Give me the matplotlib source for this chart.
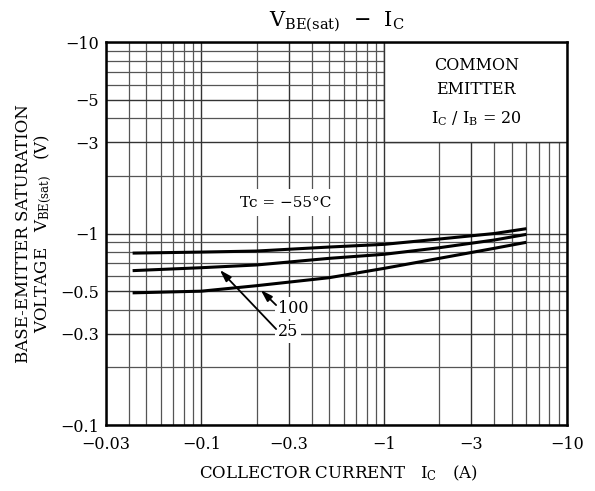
import numpy as np
import matplotlib
matplotlib.use("Agg")
from matplotlib import pyplot as plt
from matplotlib.ticker import FixedLocator, LogLocator, NullFormatter
from matplotlib.patches import Rectangle

plt.rcParams['font.family'] = ['DejaVu Serif']
plt.rcParams['mathtext.fontset'] = 'dejavuserif'

# collector current |Ic| (A) and |VBE(sat)| (V)
ic = [0.042, 0.1, 0.2, 0.5, 1.0, 2.0, 4.0, 6.0]
vbe_m55 = [0.79, 0.80, 0.81, 0.85, 0.878, 0.936, 1.0, 1.06]
vbe_25 = [0.64, 0.663, 0.685, 0.742, 0.779, 0.843, 0.925, 0.99]
vbe_100 = [0.49, 0.50, 0.534, 0.588, 0.658, 0.742, 0.837, 0.90]

x_ticks = [0.03, 0.1, 0.3, 1, 3, 10]
x_labels = ['\u22120.03', '\u22120.1', '\u22120.3', '\u22121', '\u22123', '\u221210']
y_ticks = [0.1, 0.3, 0.5, 1, 3, 5, 10]
y_labels = ['\u22120.1', '\u22120.3', '\u22120.5', '\u22121', '\u22123', '\u22125', '\u221210']

fig = plt.figure(figsize=(5.95, 4.91), dpi=100)
ax = fig.add_axes([0.178, 0.1344, 0.775, 0.780])
ax.set_xscale('log')
ax.set_yscale('log')
ax.set_xlim(0.03, 10)
ax.set_ylim(0.1, 10)

ax.xaxis.set_major_locator(FixedLocator(x_ticks))
ax.set_xticklabels(x_labels)
ax.yaxis.set_major_locator(FixedLocator(y_ticks))
ax.set_yticklabels(y_labels)
ax.xaxis.set_minor_locator(LogLocator(base=10, subs=np.arange(1, 10)))
ax.yaxis.set_minor_locator(LogLocator(base=10, subs=np.arange(1, 10)))
ax.xaxis.set_minor_formatter(NullFormatter())
ax.yaxis.set_minor_formatter(NullFormatter())
ax.tick_params(which='both', length=0, labelsize=11.5)
ax.tick_params(axis='x', pad=8)
ax.tick_params(axis='y', pad=5)

ax.set_axisbelow(True)
ax.grid(which='minor', color='#555555', lw=0.9)
ax.grid(which='major', color='#333333', lw=1.0)
for s in ax.spines.values():
    s.set_linewidth(1.8)

# note box in the upper right corner
ax.add_patch(Rectangle((1, 3), 9, 7, facecolor='white', edgecolor='#333333',
                       lw=1.0, zorder=2))
ax.text(0.803, 0.94, 'COMMON', transform=ax.transAxes, ha='center', va='center',
        fontsize=11.5, zorder=5)
ax.text(0.803, 0.875, 'EMITTER', transform=ax.transAxes, ha='center', va='center',
        fontsize=11.5, zorder=5)
ax.text(0.803, 0.80, r'I$_{\rm C}$ / I$_{\rm B}$ = 20', transform=ax.transAxes,
        ha='center', va='center', fontsize=11.5, zorder=5)

for v in [vbe_m55, vbe_25, vbe_100]:
    ax.plot(ic, v, color='black', lw=2.2, zorder=3, solid_capstyle='butt')

ax.text(0.163, 1.45, 'Tc = \u221255\u00b0C', ha='left', va='center', fontsize=11,
        zorder=4, bbox=dict(facecolor='white', edgecolor='none', pad=5))
ax.text(0.262, 0.408, '100', ha='left', va='center', fontsize=11.5, zorder=4,
        bbox=dict(facecolor='white', edgecolor='none', pad=2))
ax.text(0.262, 0.306, '25', ha='left', va='center', fontsize=11.5, zorder=4,
        bbox=dict(facecolor='white', edgecolor='none', pad=2))
arrow = dict(arrowstyle='-|>,head_length=0.7,head_width=0.22', color='black', lw=1.3,
             shrinkA=0, shrinkB=0)
ax.annotate('', xy=(0.211, 0.507), xytext=(0.256, 0.423), arrowprops=arrow, zorder=5)
ax.annotate('', xy=(0.126, 0.645), xytext=(0.256, 0.317), arrowprops=arrow, zorder=5)

fig.text(0.566, 0.955, r'V$_{\rm BE(sat)}$  $-$  I$_{\rm C}$', ha='center', va='center',
         fontsize=15)
fig.text(0.568, 0.037, r'COLLECTOR CURRENT   I$_{\rm C}$   (A)', ha='center', va='center',
         fontsize=12)
fig.text(0.058, 0.525, 'BASE-EMITTER SATURATION\n' + r'VOLTAGE   V$_{\rm BE(sat)}$   (V)',
         rotation=90, ha='center', va='center', multialignment='center', fontsize=12,
         linespacing=1.0)

fig.savefig('out.png', dpi=100)
